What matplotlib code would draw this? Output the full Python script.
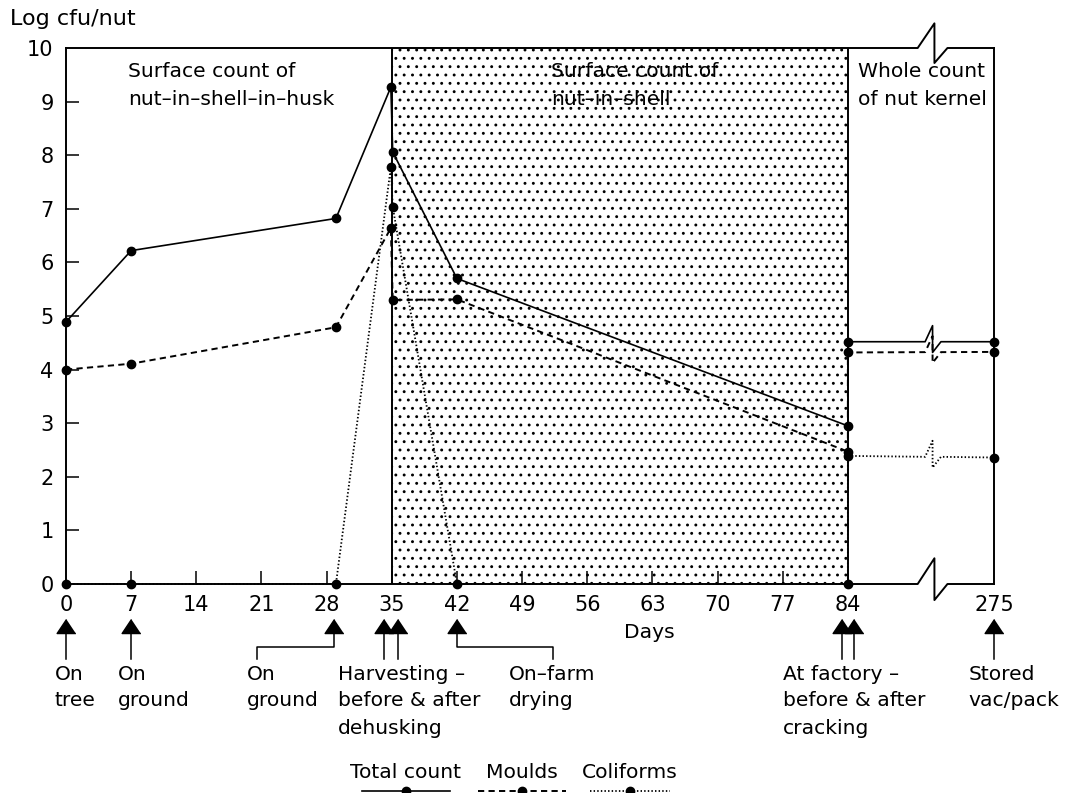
import numpy as np
import matplotlib
matplotlib.use("Agg")
import matplotlib.pyplot as plt
from matplotlib.lines import Line2D

# ---------------- data ----------------
days = [0, 7, 29, 34.9, 35.1, 42, 84, 84, 275]
total_count = [4.89, 6.22, 6.82, 9.27, 8.06, 5.70, 2.95, 4.52, 4.52]
moulds = [4.00, 4.11, 4.79, 6.64, 5.30, 5.31, 2.47, 4.32, 4.33]
coliforms = [0.0, 0.0, 0.0, 7.78, 7.04, 0.0, 0.0, 2.39, 2.36]

x_ticks = [0, 7, 14, 21, 28, 35, 42, 49, 56, 63, 70, 77, 84, 275]
x_tick_labels = ["0", "7", "14", "21", "28", "35", "42", "49", "56", "63",
                 "70", "77", "84", "275"]
y_ticks = [0, 1, 2, 3, 4, 5, 6, 7, 8, 9, 10]

series_names = ["Total count", "Moulds", "Coliforms"]
stage_names = ["Surface count of\nnut\u2013in\u2013shell\u2013in\u2013husk",
               "Surface count of\nnut\u2013in\u2013shell",
               "Whole count\nof nut kernel"]

# ---------------- figure ----------------
W, H = 1065, 793
fig = plt.figure(figsize=(W / 100, H / 100), dpi=100)
plt.rcParams['font.family'] = ['DejaVu Sans']
plt.rcParams['hatch.linewidth'] = 0.9

AX_L, AX_R, AX_T, AX_B = 66, 994, 48, 584
ax = fig.add_axes([AX_L / W, 1 - AX_B / H, (AX_R - AX_L) / W, (AX_B - AX_T) / H])

# broken axis: 84 -> 275 compressed
POS_END = 99.7
K = (POS_END - 84) / (275 - 84)


def fwd(d):
    d = np.asarray(d, float)
    return np.where(d <= 84, d, 84 + (d - 84) * K)


def inv(p):
    p = np.asarray(p, float)
    return np.where(p <= 84, p, 84 + (p - 84) / K)


ax.set_xscale('function', functions=(fwd, inv))
ax.set_xlim(0, 275)
ax.set_ylim(0, 10)

PX_Y = (AX_B - AX_T) / 10.0      # pixels per y unit


def ypx(py):
    return (AX_B - py) / PX_Y


def xp(pos):
    return float(inv(pos))


# shaded region
ax.axvspan(35, 84, facecolor='white', edgecolor='black', hatch='..',
           linewidth=0, zorder=0)
ax.axvline(35, color='black', lw=1.4, zorder=2)
ax.axvline(84, color='black', lw=1.4, zorder=2)

# spines
for s in ['top', 'bottom', 'right']:
    ax.spines[s].set_visible(False)
ax.spines['left'].set_linewidth(1.4)


def frame_break(yv, up, down):
    xs = [0, 84, xp(91.5), xp(93.3), xp(93.3), xp(94.7), 275]
    ys = [yv, yv, yv, yv + up, yv - down, yv, yv]
    ax.plot(xs, ys, color='black', lw=1.4, clip_on=False, zorder=3)


frame_break(10, 0.46, 0.28)
frame_break(0, 0.48, 0.30)
ax.plot([275, 275], [0, 10], color='black', lw=1.4, clip_on=False, zorder=3)

# series
styles = [dict(ls='-', lw=1.2),
          dict(ls=(0, (3.2, 2.2)), lw=1.4),
          dict(ls=(0, (0.8, 1.2)), lw=1.3)]
all_series = [total_count, moulds, coliforms]


def series_xy(vals):
    xs = list(days[:8])
    ys = list(vals[:8])
    v0, v1 = vals[7], vals[8]
    zx = [92.3, 93.1, 93.1, 94.0]
    vb = v0 + (v1 - v0) * (93.1 - 84) / (POS_END - 84)
    zy = [vb, vb + 0.3, vb - 0.2, vb]
    xs += [xp(p) for p in zx] + [days[8]]
    ys += zy + [v1]
    return xs, ys


for vals, st in zip(all_series, styles):
    xs, ys = series_xy(vals)
    ax.plot(xs, ys, color='black', clip_on=False, zorder=4, **st)
    ax.plot(days, vals, ls='none', marker='o', ms=6, color='black',
            clip_on=False, zorder=5)

# ticks
ax.set_xticks(x_ticks)
ax.set_xticklabels(x_tick_labels)
ax.set_yticks(y_ticks)
ax.set_yticklabels([str(v) for v in y_ticks])
ax.tick_params(axis='x', direction='in', length=9.5, width=1.1, pad=8,
               labelsize=15)
ax.tick_params(axis='y', direction='in', length=9, width=1.1, pad=9,
               labelsize=15)
ax.xaxis.get_major_ticks()[-1].tick1line.set_visible(False)
ax.xaxis.get_major_ticks()[0].tick1line.set_visible(False)
ax.yaxis.get_major_ticks()[0].tick1line.set_visible(False)
ax.yaxis.get_major_ticks()[-1].tick1line.set_visible(False)

# stage labels
FS = 14.6
stage_x = [6.66, 52.1, 85.1]
for sx, name in zip(stage_x, stage_names):
    l1, l2 = name.split("\n")
    ax.text(xp(sx), 9.56, l1, fontsize=FS, va='center', ha='left', zorder=6)
    ax.text(xp(sx), 9.04, l2, fontsize=FS, va='center', ha='left', zorder=6)

fig.text(10 / W, 1 - 19 / H, "Log cfu/nut", fontsize=16, va='center', ha='left')
ax.text(xp(62.7), ypx(633), "Days", fontsize=FS, ha='center', va='center')

# arrows below axis
tri = [(0, 0.75), (-1, -0.75), (1, -0.75)]
arrow_days = [0, 7, 29, 35, 35, 42, 84, 84, 275]
arrow_off = [0, 0, -0.2, -0.85, 0.7, 0, -0.65, 0.65, 0]
stem_end = ypx(659)
for d, o in zip(arrow_days, arrow_off):
    pos = float(fwd(d)) + o
    x = xp(pos)
    ax.plot([x], [ypx(625.5)], marker=tri, ms=13.5, color='black',
            ls='none', clip_on=False)
    if d in (29, 42):
        continue
    ax.plot([x, x], [ypx(633), stem_end], color='black', lw=1.1, clip_on=False)

# connectors for 28/29 and 42
for d, o, xend in [(29, -0.2, 20.5), (42, 0, 52.3)]:
    x = xp(float(fwd(d)) + o)
    ax.plot([x, x, xp(xend), xp(xend)],
            [ypx(633), ypx(647), ypx(647), stem_end],
            color='black', lw=1.1, clip_on=False)

labels = [
    (-1.2, ["On", "tree"]),
    (5.6, ["On", "ground"]),
    (19.4, ["On", "ground"]),
    (29.2, ["Harvesting \u2013", "before & after", "dehusking"]),
    (47.6, ["On\u2013farm", "drying"]),
    (77.0, ["At factory \u2013", "before & after", "cracking"]),
    (97.0, ["Stored", "vac/pack"]),
]
line_y = [674, 701, 728]
for lx, lines in labels:
    for i, t in enumerate(lines):
        ax.text(xp(lx), ypx(line_y[i]), t, fontsize=FS, ha='left',
                va='center', clip_on=False)

# legend (manual)
leg_text_y = 1 - 772 / H
leg_line_y = 1 - 791 / H
leg_centers = [406, 522, 630]
leg_half = [44, 44, 40]
for name, st, cx, hw in zip(series_names, styles, leg_centers, leg_half):
    fig.text(cx / W, leg_text_y, name, fontsize=FS, ha='center', va='center')
    fig.add_artist(Line2D([(cx - hw) / W, (cx + hw) / W], [leg_line_y, leg_line_y],
                          color='black', **st))
    fig.add_artist(Line2D([cx / W], [leg_line_y], marker='o', ms=6,
                          color='black', ls='none'))

fig.savefig("out.png", dpi=100)
